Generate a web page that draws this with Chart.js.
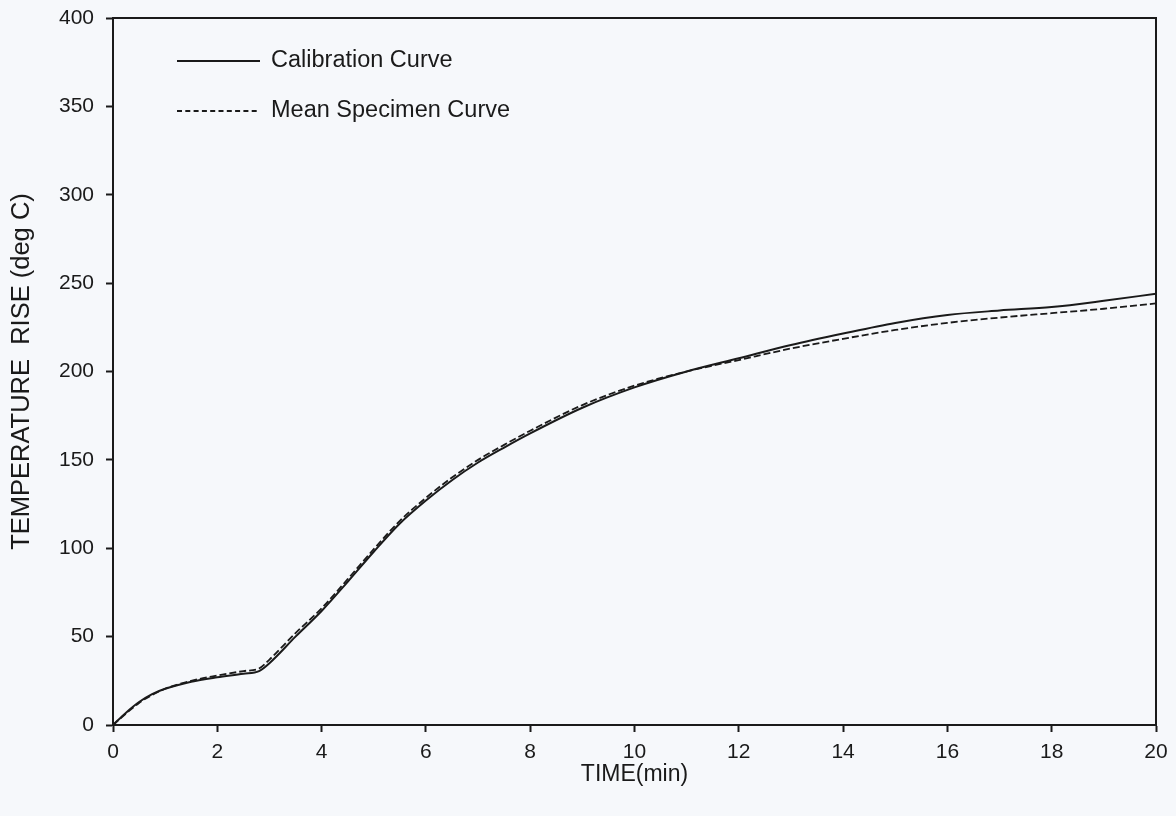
<!DOCTYPE html>
<html>
<head>
<meta charset="utf-8">
<script src="https://cdn.jsdelivr.net/npm/chart.js@4.4.1/dist/chart.umd.min.js"></script>
<style>
  body { margin: 0; background: #f6f8fb; }
  canvas { display: block; }
</style>
</head>
<body>
<canvas id="chart" width="1176" height="816"></canvas>
<script>
// time in minutes
var time_min = [0, 0.25, 0.5, 0.75, 1, 1.5, 2, 2.5, 2.8, 3, 3.5, 4, 4.5, 5, 5.5, 6, 6.5, 7, 7.5, 8, 9, 10, 11, 12, 13, 14, 15, 16, 17, 18, 19, 20];

var calibration = [0, 7, 13, 17.5, 20.5, 24.5, 27, 29, 30.5, 35, 50, 64.5, 81, 98, 114, 127, 138.5, 148.5, 157, 165, 179.5, 191, 200, 207.5, 215, 221.5, 227.5, 232, 234.5, 236.5, 240, 244];
var mean_specimen = [0, 6.5, 12.5, 17, 20.5, 25, 28, 30.5, 32, 37, 52, 66, 82.5, 99.5, 115.5, 128.5, 140, 150, 158.5, 166.5, 181, 192, 200, 206.5, 213, 218.5, 223.5, 227.5, 230.5, 233, 235.5, 238.5];

var series_names = ['Calibration Curve', 'Mean Specimen Curve'];
var x_ticks = [0, 2, 4, 6, 8, 10, 12, 14, 16, 18, 20];
var y_ticks = [0, 50, 100, 150, 200, 250, 300, 350, 400];

var FONT = "'Liberation Sans', Arial, sans-serif";
var INK = '#1a1a1a';

function toPoints(ys){
    var pts = [];
    for(var i=0;i<time_min.length;i++){
        pts.push({x: time_min[i], y: ys[i]});
    }
    return pts;
}

// box round the plot area
var framePlugin = {
    id: 'frame',
    afterDatasetsDraw: function(chart){
        var a = chart.chartArea;
        var ctx = chart.ctx;
        ctx.save();
        ctx.strokeStyle = INK;
        ctx.lineWidth = 2;
        ctx.beginPath();
        ctx.moveTo(a.left, a.top);
        ctx.lineTo(a.right, a.top);
        ctx.lineTo(a.right, a.bottom);
        ctx.stroke();
        ctx.restore();
    }
};

// legend drawn inside the plot, top left
var legendPlugin = {
    id: 'innerLegend',
    afterDraw: function(chart){
        var ctx = chart.ctx;
        var a = chart.chartArea;
        ctx.save();
        ctx.font = '23.5px ' + FONT;
        ctx.textBaseline = 'middle';
        ctx.fillStyle = INK;
        chart.data.datasets.forEach(function(ds, i){
            var y = a.top + 43 + i * 50;
            var x0 = a.left + 64;
            ctx.strokeStyle = ds.borderColor;
            ctx.lineWidth = 1.8;
            ctx.setLineDash(i == 1 ? [5, 3.3] : []);
            ctx.beginPath();
            ctx.moveTo(x0, y);
            ctx.lineTo(x0 + 83, y);
            ctx.stroke();
            ctx.setLineDash([]);
            ctx.fillText(ds.label, x0 + 94, y);
        });
        ctx.restore();
    }
};

var ctx = document.getElementById('chart').getContext('2d');
var chart = new Chart(ctx, {
    type: 'line',
    data: {
        datasets: [{
            label: series_names[0],
            data: toPoints(calibration),
            borderColor: INK,
            borderWidth: 2,
            pointRadius: 0,
            cubicInterpolationMode: 'monotone'
        }, {
            label: series_names[1],
            data: toPoints(mean_specimen),
            borderColor: INK,
            borderWidth: 1.8,
            borderDash: [7, 3],
            pointRadius: 0,
            cubicInterpolationMode: 'monotone'
        }]
    },
    options: {
        responsive: false,
        devicePixelRatio: 1,
        animation: false,
        layout: { padding: { top: 18, right: 20, left: 0, bottom: 0 } },
        plugins: {
            legend: { display: false },
            tooltip: { enabled: false }
        },
        scales: {
            x: {
                type: 'linear',
                min: 0,
                max: 20,
                afterBuildTicks: function(scale){
                    scale.ticks = x_ticks.map(function(v){ return {value: v}; });
                },
                afterFit: function(scale){ scale.height = 91; },
                ticks: { color: INK, font: { family: FONT, size: 21 }, padding: 8, maxRotation: 0 },
                grid: { drawOnChartArea: false, drawTicks: true, tickLength: 7, tickWidth: 2, tickColor: INK },
                border: { display: true, color: INK, width: 2 },
                title: { display: true, text: 'TIME(min)', color: INK, font: { family: FONT, size: 23 }, padding: { top: 0, bottom: 28 } }
            },
            y: {
                type: 'linear',
                min: 0,
                max: 400,
                afterBuildTicks: function(scale){
                    scale.ticks = y_ticks.map(function(v){ return {value: v}; });
                },
                afterFit: function(scale){
                    scale.width = 113;
                    scale.paddingTop = 10;
                    scale.paddingBottom = 10;
                },
                ticks: { color: INK, font: { family: FONT, size: 21 }, padding: 12 },
                grid: { drawOnChartArea: false, drawTicks: true, tickLength: 7, tickWidth: 2, tickColor: INK },
                border: { display: true, color: INK, width: 2 },
                title: { display: true, text: 'TEMPERATURE  RISE (deg C)', color: INK, font: { family: FONT, size: 25.5 }, padding: { top: 7, bottom: 0 } }
            }
        }
    },
    plugins: [framePlugin, legendPlugin]
});
</script>
</body>
</html>
